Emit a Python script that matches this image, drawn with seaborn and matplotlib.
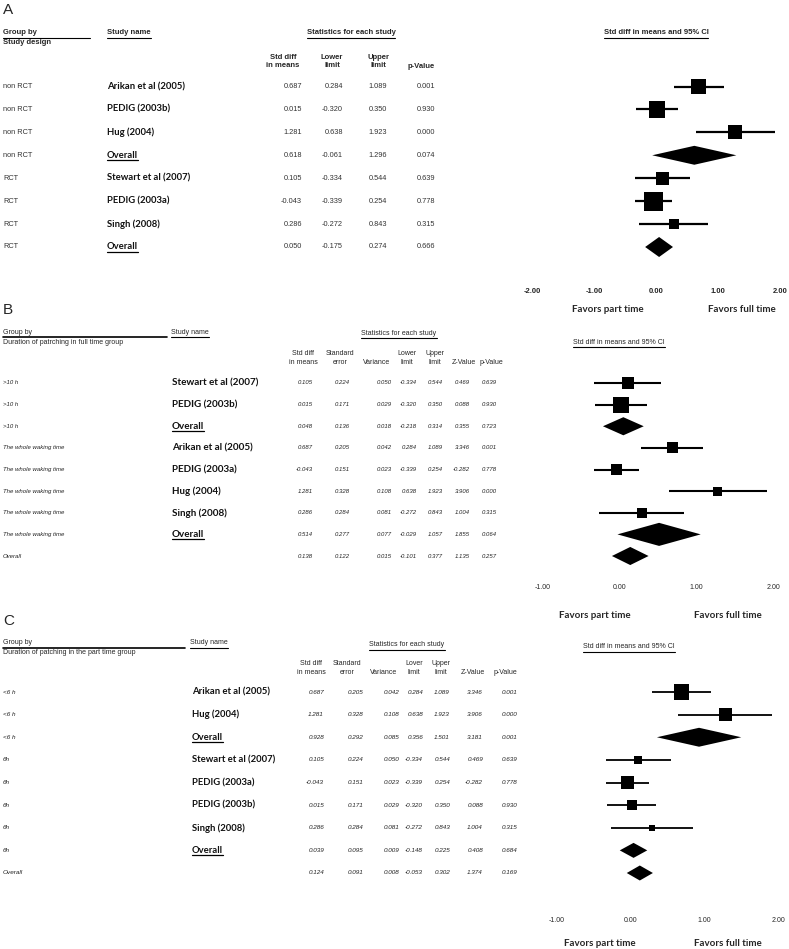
import numpy as np
import matplotlib
matplotlib.use("Agg")
import matplotlib.pyplot as plt
from matplotlib.lines import Line2D
from matplotlib.transforms import blended_transform_factory
import seaborn as sns

# ---- panel A: grouped by study design ----
a_group = ["non RCT"] * 4 + ["RCT"] * 4
a_study = ["Arikan et al (2005)", "PEDIG (2003b)", "Hug (2004)", "Overall",
           "Stewart et al (2007)", "PEDIG (2003a)", "Singh (2008)", "Overall"]
a_est = [0.687, 0.015, 1.281, 0.618, 0.105, -0.043, 0.286, 0.050]
a_lower = [0.284, -0.320, 0.638, -0.061, -0.334, -0.339, -0.272, -0.175]
a_upper = [1.089, 0.350, 1.923, 1.296, 0.544, 0.254, 0.843, 0.274]
a_p = [0.001, 0.930, 0.000, 0.074, 0.639, 0.778, 0.315, 0.666]
a_weight = [22, 26, 19, 35, 16, 35, 10, 39]
a_ticks = [-2, -1, 0, 1, 2]

# ---- panel B: duration of patching in full time group ----
b_group = [">10 h"] * 3 + ["The whole waking time"] * 5 + ["Overall"]
b_study = ["Stewart et al (2007)", "PEDIG (2003b)", "Overall",
           "Arikan et al (2005)", "PEDIG (2003a)", "Hug (2004)", "Singh (2008)",
           "Overall", ""]
b_est = [0.105, 0.015, 0.048, 0.687, -0.043, 1.281, 0.286, 0.514, 0.138]
b_se = [0.224, 0.171, 0.136, 0.205, 0.151, 0.328, 0.284, 0.277, 0.122]
b_var = [0.050, 0.029, 0.018, 0.042, 0.023, 0.108, 0.081, 0.077, 0.015]
b_lower = [-0.334, -0.320, -0.218, 0.284, -0.339, 0.638, -0.272, -0.029, -0.101]
b_upper = [0.544, 0.350, 0.314, 1.089, 0.254, 1.923, 0.843, 1.057, 0.377]
b_z = [0.469, 0.088, 0.355, 3.346, -0.282, 3.906, 1.004, 1.855, 1.135]
b_p = [0.639, 0.930, 0.723, 0.001, 0.778, 0.000, 0.315, 0.064, 0.257]
b_weight = [14, 25, 32, 12, 12, 8, 10, 52, 32]
b_ticks = [-1, 0, 1, 2]

# ---- panel C: duration of patching in part time group ----
c_group = ["<6 h"] * 3 + ["6h"] * 5 + ["Overall"]
c_study = ["Arikan et al (2005)", "Hug (2004)", "Overall",
           "Stewart et al (2007)", "PEDIG (2003a)", "PEDIG (2003b)", "Singh (2008)",
           "Overall", ""]
c_est = [0.687, 1.281, 0.928, 0.105, -0.043, 0.015, 0.286, 0.039, 0.124]
c_se = [0.205, 0.328, 0.292, 0.224, 0.151, 0.171, 0.284, 0.095, 0.091]
c_var = [0.042, 0.108, 0.085, 0.050, 0.023, 0.029, 0.081, 0.009, 0.008]
c_lower = [0.284, 0.638, 0.356, -0.334, -0.339, -0.320, -0.272, -0.148, -0.053]
c_upper = [1.089, 1.923, 1.501, 0.544, 0.254, 0.350, 0.843, 0.225, 0.302]
c_z = [3.346, 3.906, 3.181, 0.469, -0.282, 0.088, 1.004, 0.408, 1.374]
c_p = [0.001, 0.000, 0.001, 0.639, 0.778, 0.930, 0.315, 0.684, 0.169]
c_weight = [22, 16.5, 35, 6, 16.5, 10, 3.5, 22, 22]
c_ticks = [-1, 0, 1, 2]

sns.set_theme(style="white")
plt.rcParams["font.family"] = ["Liberation Sans", "DejaVu Sans"]

W, H = 789, 949
fig = plt.figure(figsize=(W / 100, H / 100), dpi=100)
renderer = fig.canvas.get_renderer()
NAME_FONT = ["Lato", "DejaVu Sans"]
NARROW = ["Liberation Sans Narrow", "Liberation Sans"]


def ftext(x, y, s, **kw):
    kw.setdefault("va", "center")
    return fig.text(x / W, 1 - y / H, s, **kw)


def uline(t, x1=None, gap=1.0, lw=0.8):
    bb = t.get_window_extent(renderer=renderer)
    xe = bb.x1 if x1 is None else x1
    y = bb.y0 - gap
    fig.add_artist(Line2D([bb.x0 / W, xe / W], [y / H, y / H],
                          transform=fig.transFigure, color="black", lw=lw))


def forest(est, lower, upper, weight, study, ticks, xpx, y_first, y_last,
           tick_pad, tick_size, tick_bold, lw):
    n = len(est)
    step = (y_last - y_first) / (n - 1)
    top, bottom = y_first - step / 2, y_last + step / 2
    ax = fig.add_axes([xpx[0] / W, 1 - bottom / H,
                       (xpx[1] - xpx[0]) / W, (bottom - top) / H])
    ax.set_facecolor("none")
    est, lower, upper, weight = map(np.asarray, (est, lower, upper, weight))
    rows = np.arange(n)
    summ = np.array([s in ("Overall", "") for s in study])
    st = ~summ
    ax.hlines(rows[st], lower[st], upper[st], color="black", lw=lw)
    k = (3.2 * 0.72) ** 2
    w = weight[st]
    sns.scatterplot(x=est[st], y=rows[st], size=w, sizes=(k * w.min(), k * w.max()),
                    size_norm=(w.min(), w.max()), marker="s", color="black",
                    linewidth=0, legend=False, ax=ax)
    for r in rows[summ]:
        h = 3.2 * np.sqrt(weight[r]) / 2 / step
        ax.fill([lower[r], est[r], upper[r], est[r]], [r, r - h, r, r + h],
                color="black", lw=0)
    ax.set_xlim(ticks[0], ticks[-1])
    ax.set_ylim(n - 0.5, -0.5)
    ax.set_xticks(ticks)
    ax.set_xticklabels([f"{t:.2f}" for t in ticks], fontsize=tick_size,
                       fontweight="bold" if tick_bold else "normal")
    ax.tick_params(axis="x", length=0, pad=tick_pad)
    ax.set_yticks([])
    ax.grid(False)
    sns.despine(ax=ax, left=True, bottom=True)
    for c in ax.collections:
        c.set_clip_on(False)
    return ax


def table(ax, group, study, cols, gx, sx, g_kw, s_kw, n_kw):
    tr = blended_transform_factory(fig.transFigure, ax.transData)
    for i in range(len(group)):
        ax.text(gx / W, i, group[i], transform=tr, va="center", ha="left", **g_kw)
        t = ax.text(sx / W, i, study[i], transform=tr, va="center", ha="left", **s_kw)
        if study[i] == "Overall":
            uline(t, gap=0.5, lw=0.9)
        for xr, vals in cols:
            ax.text(xr / W, i, f"{vals[i]:.3f}", transform=tr, va="center",
                    ha="right", **n_kw)


name_kw = dict(fontsize=6.8, family=NAME_FONT, fontweight="bold", color="#111111")

# ================= Panel A =================
ftext(3, 10, "A", fontsize=11)
hb = dict(fontsize=5.5, fontweight="bold")
t = ftext(3, 33, "Group by", **hb); uline(t, x1=90)
ftext(3, 43, "Study design", **hb)
t = ftext(107, 33, "Study name", **hb); uline(t)
t = ftext(351, 33, "Statistics for each study", ha="center", **hb); uline(t)
t = ftext(656, 33, "Std diff in means and 95% CI", ha="center", **hb); uline(t)
for xc, lab in [(283, "Std diff\nin means"), (332, "Lower\nlimit"), (378, "Upper\nlimit")]:
    ftext(xc, 61.5, lab, ha="center", linespacing=1.3, **hb)
ftext(421, 66, "p-Value", ha="center", **hb)

axA = forest(a_est, a_lower, a_upper, a_weight, a_study, a_ticks, (532, 780),
             86.5, 247, 21, 5.5, True, 1.6)
table(axA, a_group, a_study,
      [(302, a_est), (343, a_lower), (387, a_upper), (435, a_p)], 3, 107,
      dict(fontsize=5.3, color="#333333"), name_kw,
      dict(fontsize=5.3, color="#333333"))
fb = dict(fontsize=7, family=NAME_FONT, fontweight="bold", ha="center")
ftext(608, 310, "Favors part time", **fb)
ftext(742, 310, "Favors full time", **fb)

# ================= Panel B =================
ftext(3, 310, "B", fontsize=11)
hn = dict(fontsize=5, family=NARROW)
t = ftext(3, 332, "Group by", **hn); uline(t, x1=167, lw=1.2)
ftext(3, 343, "Duration of patrching in full time group", **hn)
t = ftext(171, 332, "Study name", **hn); uline(t)
t = ftext(399, 334, "Statistics for each study", ha="center", **hn); uline(t)
t = ftext(619, 342, "Std diff in means and 95% CI", ha="center", **hn); uline(t)
for xc, lab in [(303, "Std diff\nin means"), (340, "Standard\nerror"),
                (407, "Lower\nlimit"), (435, "Upper\nlimit")]:
    ftext(xc, 358, lab, ha="center", linespacing=1.3, **hn)
for xc, lab in [(377, "Variance"), (464, "Z-Value"), (491, "p-Value")]:
    ftext(xc, 363, lab, ha="center", **hn)

axB = forest(b_est, b_lower, b_upper, b_weight, b_study, b_ticks, (543, 773),
             383, 556, 12.5, 5, False, 1.5)
table(axB, b_group, b_study,
      [(313, b_est), (350, b_se), (392, b_var), (417, b_lower), (443, b_upper),
       (470, b_z), (497, b_p)], 3, 172,
      dict(fontsize=4.3, style="italic", color="#222222"),
      dict(name_kw, fontsize=7.1),
      dict(fontsize=4.3, style="italic", color="#222222"))
ftext(595, 615, "Favors part time", **fb)
ftext(728, 615, "Favors full time", **fb)

# ================= Panel C =================
ftext(3, 621, "C", fontsize=11)
t = ftext(3, 643, "Group by", **hn); uline(t, x1=185, lw=1.2)
ftext(3, 653, "Duration of patching in the part time group", **hn)
t = ftext(190, 643, "Study name", **hn); uline(t)
t = ftext(407, 645, "Statistics for each study", ha="center", **hn); uline(t)
t = ftext(629, 647, "Std diff in means and 95% CI", ha="center", **hn); uline(t)
for xc, lab in [(311, "Std diff\nin means"), (347, "Standard\nerror"),
                (414, "Lover\nlimit"), (441, "Upper\nlimit")]:
    ftext(xc, 668, lab, ha="center", linespacing=1.3, **hn)
for xc, lab in [(384, "Variance"), (473, "Z-Value"), (505, "p-Value")]:
    ftext(xc, 673, lab, ha="center", **hn)

axC = forest(c_est, c_lower, c_upper, c_weight, c_study, c_ticks, (557, 778),
             692, 873, 23.5, 5, False, 1.3)
table(axC, c_group, c_study,
      [(324, c_est), (363, c_se), (399, c_var), (423, c_lower), (450, c_upper),
       (483, c_z), (517, c_p)], 3, 192,
      dict(fontsize=4.6, style="italic", color="#222222"), name_kw,
      dict(fontsize=4.6, style="italic", color="#222222"))
ftext(600, 943, "Favors part time", **fb)
ftext(728, 943, "Favors full time", **fb)

fig.savefig("out.png", dpi=100)
